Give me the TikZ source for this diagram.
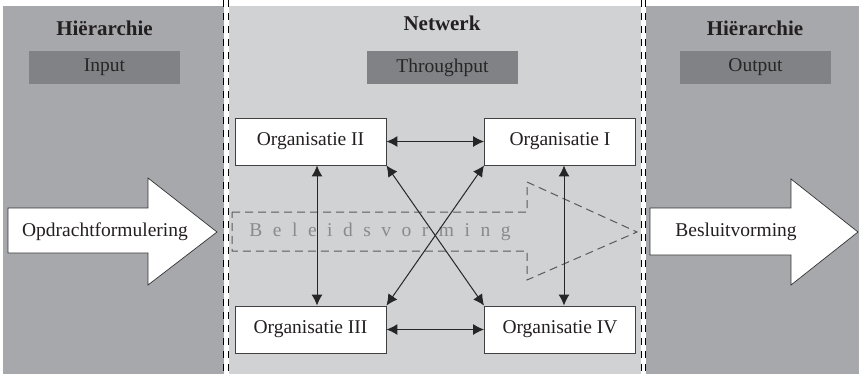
\documentclass[tikz,border=0pt]{standalone}
\usepackage{fontspec}
\setmainfont{Liberation Serif}
\usetikzlibrary{arrows.meta}
\definecolor{darkpanel}{HTML}{A7A8AB}
\definecolor{lightpanel}{HTML}{D1D2D4}
\definecolor{labelbox}{HTML}{808285}
\definecolor{inktext}{HTML}{231F20}
\definecolor{boxtext}{HTML}{262626}
\definecolor{dashgray}{HTML}{5A5A5A}
\definecolor{ghosttext}{HTML}{8A8A8A}
\newcommand\lsg{\kern 10.5bp}
\tikzset{
  divider/.style={draw=black, line width=1bp, dash pattern=on 7bp off 6bp},
  header/.style={font=\fontsize{21bp}{25bp}\selectfont\bfseries, text=inktext, inner sep=0pt},
  stagebox/.style={fill=labelbox, minimum width=151bp, minimum height=33bp, inner sep=0pt, text=boxtext},
  orgbox/.style={draw=black!75, fill=white, line width=0.9bp, minimum width=151bp, minimum height=47bp, inner sep=0pt, text=inktext},
  bigarrow/.style={draw=black!80, fill=white, line width=0.7bp},
  ghostarrow/.style={draw=dashgray, line width=1bp, dash pattern=on 8bp off 5bp},
  link/.style={draw=black!85, line width=1bp, {Latex[length=11bp,width=11bp]}-{Latex[length=11bp,width=11bp]}},
  plainlabel/.style={inner sep=0pt, text=inktext}
}
\begin{document}
\begin{tikzpicture}[x=1bp, y=-1bp, font=\fontsize{19.5bp}{23bp}\selectfont]
\useasboundingbox (0,0) rectangle (859,374);
\fill[white] (0,0) rectangle (859,374);
% panels
\fill[darkpanel] (3,6) rectangle (224,374);
\fill[lightpanel] (229,6) rectangle (641,374);
\fill[darkpanel] (646,6) rectangle (859,374);
% dividers
\draw[divider] (223,0) -- (223,374);
\draw[divider] (228.5,0) -- (228.5,374);
\draw[divider] (641.5,0) -- (641.5,374);
\draw[divider] (645.5,0) -- (645.5,374);
% headers
\node[header] (hleft) at (104.5,28) {Hiërarchie};
\node[header] (hmid) at (442,23) {Netwerk};
\node[header] (hright) at (755,28) {Hiërarchie};
\node[stagebox] (input) at (104.5,67.5) {Input};
\node[stagebox] (through) at (442.5,67.5) {Throughput};
\node[stagebox] (output) at (755.5,67.5) {Output};
% big arrows
\draw[bigarrow] (8,208) -- (148,208) -- (148,178) -- (217,232) -- (148,285) -- (148,253) -- (8,253) -- cycle;
\node[plainlabel] (opdracht) at (105,232) {Opdrachtformulering};
\draw[bigarrow] (650,208) -- (791,208) -- (791,179) -- (858,232) -- (791,285) -- (791,255) -- (650,255) -- cycle;
\node[plainlabel] (besluit) at (736,232) {Besluitvorming};
% ghost arrow
\draw[ghostarrow] (232,212) -- (527,212) -- (527,182) -- (637,232) -- (527,280) -- (527,251) -- (232,251) -- cycle;
\node[inner sep=0pt, text=ghosttext] (beleid) at (380,232) {B\lsg e\lsg l\lsg e\lsg i\lsg d\lsg s\lsg v\lsg o\lsg r\lsg m\lsg i\lsg n\lsg g};
% organisations
\node[orgbox] (o2) at (310.5,141.5) {Organisatie II};
\node[orgbox] (o1) at (560,141.5) {Organisatie I};
\node[orgbox] (o3) at (310.5,329.5) {Organisatie III};
\node[orgbox] (o4) at (560,329.5) {Organisatie IV};
\coordinate (vl) at (317,0);
\coordinate (vr) at (564,0);
% links
\draw[link] (o2.east) -- (o1.west);
\draw[link] (o3.east) -- (o4.west);
\draw[link] (vl |- o2.south) -- (vl |- o3.north);
\draw[link] (vr |- o1.south) -- (vr |- o4.north);
\draw[link] (o2.south east) -- (o4.north west);
\draw[link] (o1.south west) -- (o3.north east);
\end{tikzpicture}
\end{document}
